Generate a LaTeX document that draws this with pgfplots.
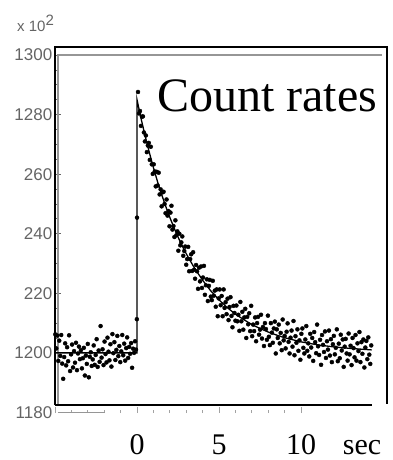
\documentclass[border=0pt]{standalone}
\usepackage{fontspec}
\setmainfont{Liberation Serif}
\setsansfont{Liberation Sans}
\usepackage{pgfplots}
\pgfplotsset{compat=1.18}
\definecolor{tickgray}{RGB}{100,100,100}
\definecolor{framegray}{RGB}{150,150,150}
\begin{document}
\begin{tikzpicture}
\begin{axis}[
  scale only axis, width=332pt, height=358pt,
  xmin=-5, xmax=15.24, ymin=1182.5, ymax=1302.7,
  clip=false,
  axis line style={draw=none},
  xtick={-5,0,5,10}, minor x tick num=4, xticklabels={},
  ytick={1200,1220,1240,1260,1280,1300},
  yticklabels={1200,220,240,260,1280,1300},
  minor y tick num=3,
  xtick pos=left, ytick pos=left,
  tick align=inside,
  major tick length=6pt, minor tick length=3pt,
  every tick/.style={tickgray, line width=0.8pt},
  every x tick/.append style={yshift=-8pt, tickgray!60},
  yticklabel style={font=\sffamily\fontsize{17}{17}\selectfont, text=tickgray, inner xsep=2.5pt},
]
\coordinate (bl) at (rel axis cs:0,0);
% frames
\draw[framegray, line width=1.2pt] (axis cs:-4.82,1182.5) -- (axis cs:-4.82,1300) -- (axis cs:14.94,1300);
\draw[black, line width=1.5pt] (axis cs:-5,1182.5) -- (axis cs:-5,1302.7) -- (axis cs:15.24,1302.7) -- (axis cs:15.24,1183.0);
\draw[black, line width=1.5pt] (axis cs:-5,1182.5) -- (axis cs:14.33,1182.5);
\draw[framegray, line width=0.8pt] (axis cs:-4.82,1179.9) -- (axis cs:-1.95,1179.9);
% data points
\addplot[only marks, mark=*, mark size=2pt, black] coordinates {
(-4.98,1206.2) (-4.92,1201.5) (-4.86,1205.8) (-4.80,1197.3) (-4.74,1204.1) (-4.68,1199.0)
(-4.62,1206.0) (-4.56,1196.4) (-4.50,1191.3) (-4.44,1198.6) (-4.38,1203.2) (-4.32,1195.8)
(-4.26,1201.9) (-4.20,1197.2) (-4.14,1205.9) (-4.08,1193.9) (-4.02,1199.5) (-3.96,1202.8)
(-3.90,1195.1) (-3.84,1200.6) (-3.78,1196.7) (-3.72,1203.4) (-3.66,1194.2) (-3.60,1199.8)
(-3.54,1202.1) (-3.48,1197.9) (-3.42,1200.9) (-3.36,1194.8) (-3.30,1198.2) (-3.24,1201.7)
(-3.18,1192.4) (-3.12,1199.1) (-3.06,1196.3) (-3.00,1203.0) (-2.94,1191.8) (-2.88,1198.7)
(-2.82,1200.2) (-2.76,1195.6) (-2.70,1197.8) (-2.64,1202.5) (-2.58,1196.0) (-2.52,1199.3)
(-2.46,1204.6) (-2.40,1195.3) (-2.34,1200.8) (-2.28,1197.0) (-2.22,1209.0) (-2.16,1198.4)
(-2.10,1201.2) (-2.04,1195.9) (-1.98,1203.8) (-1.92,1199.6) (-1.86,1196.8) (-1.80,1205.1)
(-1.74,1200.4) (-1.68,1197.5) (-1.62,1202.9) (-1.56,1195.4) (-1.50,1206.3) (-1.44,1199.9)
(-1.38,1203.6) (-1.32,1197.6) (-1.26,1201.0) (-1.20,1205.7) (-1.14,1198.9) (-1.08,1202.3)
(-1.02,1196.9) (-0.96,1200.5) (-0.90,1206.0) (-0.84,1199.2) (-0.78,1203.1) (-0.72,1197.4)
(-0.66,1201.6) (-0.60,1205.2) (-0.54,1198.3) (-0.48,1202.0) (-0.42,1199.7) (-0.36,1203.3)
(-0.30,1195.0) (-0.24,1201.4) (-0.18,1200.0) (-0.12,1203.9) (-0.06,1201.1)
(-0.01,1211.3) (0.00,1245.4)
(0.06,1287.6) (0.12,1280.4) (0.18,1281.2) (0.24,1276.2) (0.30,1279.3) (0.36,1279.4)
(0.42,1274.0) (0.48,1271.0) (0.54,1273.0) (0.60,1267.4) (0.66,1269.6) (0.72,1270.5)
(0.78,1264.8) (0.84,1269.2) (0.90,1263.3) (0.96,1260.1) (1.02,1263.3) (1.08,1260.9)
(1.14,1255.9) (1.20,1260.8) (1.26,1256.2) (1.32,1260.5) (1.38,1253.2) (1.44,1254.9)
(1.50,1249.2) (1.56,1253.9) (1.62,1254.1) (1.68,1250.0) (1.74,1246.9) (1.80,1251.5)
(1.86,1246.1) (1.92,1247.6) (1.98,1242.5) (2.04,1247.1) (2.10,1249.4) (2.16,1241.4)
(2.22,1242.6) (2.28,1238.9) (2.34,1244.5) (2.40,1239.5) (2.46,1240.8) (2.52,1234.3)
(2.58,1240.0) (2.64,1236.1) (2.70,1237.1) (2.76,1239.1) (2.82,1232.6) (2.88,1234.2)
(2.94,1235.7) (3.00,1229.6)
(3.06,1231.5) (3.12,1235.6) (3.18,1227.4) (3.24,1231.5) (3.30,1233.1) (3.36,1227.5)
(3.42,1233.8) (3.48,1227.9) (3.54,1224.9) (3.60,1229.5) (3.66,1227.4) (3.72,1221.5)
(3.78,1228.6) (3.84,1224.0) (3.90,1229.0) (3.96,1221.8) (4.02,1225.3) (4.08,1229.2)
(4.14,1219.5) (4.20,1222.7) (4.26,1224.7) (4.32,1217.4) (4.38,1222.5) (4.44,1224.5)
(4.50,1218.9) (4.56,1217.7) (4.62,1224.2) (4.68,1219.2) (4.74,1220.9) (4.80,1215.5)
(4.86,1221.3) (4.92,1212.3) (4.98,1218.3) (5.04,1221.3) (5.10,1216.0) (5.16,1219.1)
(5.22,1212.3) (5.28,1221.3) (5.34,1215.1) (5.40,1217.0) (5.46,1213.0) (5.52,1218.2)
(5.58,1211.0) (5.64,1215.4) (5.70,1218.7) (5.76,1212.4) (5.82,1208.6) (5.88,1215.8)
(5.94,1213.4) (6.00,1210.8)
(6.06,1215.9) (6.12,1210.6) (6.18,1212.8) (6.24,1207.4) (6.30,1217.1) (6.36,1210.6)
(6.42,1213.8) (6.48,1207.8) (6.54,1211.9) (6.60,1214.8) (6.66,1205.0) (6.72,1212.1)
(6.78,1209.6) (6.84,1213.3) (6.90,1207.3) (6.96,1215.8) (7.02,1205.6) (7.08,1209.5)
(7.14,1207.3) (7.20,1211.9) (7.26,1203.9) (7.32,1210.0) (7.38,1212.1) (7.44,1206.1)
(7.50,1207.8) (7.56,1212.8) (7.62,1204.8) (7.68,1208.7) (7.74,1202.3) (7.80,1210.0)
(7.86,1208.0) (7.92,1204.4) (7.98,1212.5) (8.04,1205.4) (8.10,1202.6) (8.16,1210.0)
(8.22,1206.8) (8.28,1203.4) (8.34,1208.2) (8.40,1210.5) (8.46,1199.8) (8.52,1207.9)
(8.58,1205.0) (8.64,1209.5) (8.70,1203.2) (8.76,1206.7) (8.82,1200.9) (8.88,1211.2)
(8.94,1204.2) (9.00,1205.7)
(9.06,1201.5) (9.12,1207.1) (9.18,1209.9) (9.24,1203.7) (9.30,1199.8) (9.36,1205.1)
(9.42,1207.5) (9.48,1202.1) (9.54,1210.7) (9.60,1199.2) (9.66,1205.6) (9.72,1203.4)
(9.78,1207.9) (9.84,1200.7) (9.90,1204.2) (9.96,1197.7) (10.02,1206.4) (10.08,1208.2)
(10.14,1201.7) (10.20,1199.8) (10.26,1204.5) (10.32,1209.0) (10.38,1200.7) (10.44,1203.2)
(10.50,1198.8) (10.56,1206.4) (10.62,1201.8) (10.68,1205.0) (10.74,1197.3) (10.80,1207.0)
(10.86,1203.6) (10.92,1199.9) (10.98,1209.5) (11.04,1202.2) (11.10,1199.3) (11.16,1204.4)
(11.22,1196.0) (11.28,1206.0) (11.34,1202.7) (11.40,1200.3) (11.46,1207.2) (11.52,1198.3)
(11.58,1203.9) (11.64,1201.1) (11.70,1207.5) (11.76,1199.1) (11.82,1204.6) (11.88,1196.9)
(11.94,1202.9) (12.00,1205.7) (12.06,1199.5) (12.12,1201.7) (12.18,1207.9) (12.24,1197.2)
(12.30,1203.1) (12.36,1198.2) (12.42,1206.1) (12.48,1200.8) (12.54,1204.5) (12.60,1195.3)
(12.66,1202.1) (12.72,1204.7) (12.78,1199.8) (12.84,1197.4) (12.90,1206.5) (12.96,1199.5)
(13.02,1202.4) (13.08,1195.9) (13.14,1205.0) (13.20,1201.6) (13.26,1198.5) (13.32,1206.0)
(13.38,1197.4) (13.44,1203.2) (13.50,1200.6) (13.56,1207.0) (13.62,1196.9) (13.68,1203.6)
(13.74,1199.7) (13.80,1204.5) (13.86,1195.1) (13.92,1201.8) (13.98,1204.0) (14.04,1197.9)
(14.10,1205.2) (14.16,1199.4) (14.22,1196.3) (14.28,1202.5)
};
% fitted curve
\addplot[black, line width=1.3pt] coordinates {
(-5,1200) (0,1200) (0,1285) (0.25,1278.6) (0.5,1272.7) (0.75,1267.3) (1.0,1262.2)
(1.25,1257.5) (1.5,1253.2) (1.75,1249.2) (2.0,1245.5) (2.25,1242.1) (2.5,1238.9)
(2.75,1236.0) (3.0,1233.3) (3.5,1228.5) (4.0,1224.4) (4.5,1220.8) (5.0,1217.8)
(5.5,1215.2) (6.0,1213.0) (6.5,1211.2) (7.0,1209.5) (7.5,1208.2) (8.0,1207.0)
(8.5,1206.0) (9.0,1205.1) (9.5,1204.4) (10.0,1203.7) (11.0,1202.7) (12.0,1202.0)
(13.0,1201.5) (14.3,1201.0)
};
% texts
\node[anchor=base west, font=\fontsize{48}{48}\selectfont, inner sep=0pt] at (rel axis cs:0,0) [xshift=102pt, yshift=293pt] {Count rates};
\node[anchor=east, font=\sffamily\fontsize{17}{17}\selectfont, text=tickgray, inner xsep=2.5pt] at (axis cs:-5,1180) {1180};
\node[anchor=west, font=\sffamily\fontsize{15}{15}\selectfont, text=tickgray, inner sep=0pt] at (rel axis cs:0,1) [xshift=-38pt, yshift=24pt] {x 10\raisebox{6pt}{2}};
\node[anchor=base, font=\fontsize{30}{30}\selectfont, inner sep=0pt] at (axis cs:0,1182.5) [yshift=-49pt] {0};
\node[anchor=base, font=\fontsize{30}{30}\selectfont, inner sep=0pt] at (axis cs:5,1182.5) [yshift=-49pt] {5};
\node[anchor=base, font=\fontsize{30}{30}\selectfont, inner sep=0pt] at (axis cs:10,1182.5) [yshift=-49pt] {10};
\node[anchor=base, font=\fontsize{30}{30}\selectfont, inner sep=0pt] at (axis cs:13.72,1182.5) [yshift=-49pt] {sec};
\end{axis}
\path (bl) ++(-55pt,-55pt) rectangle ++(393pt,460pt);
\end{tikzpicture}
\end{document}
